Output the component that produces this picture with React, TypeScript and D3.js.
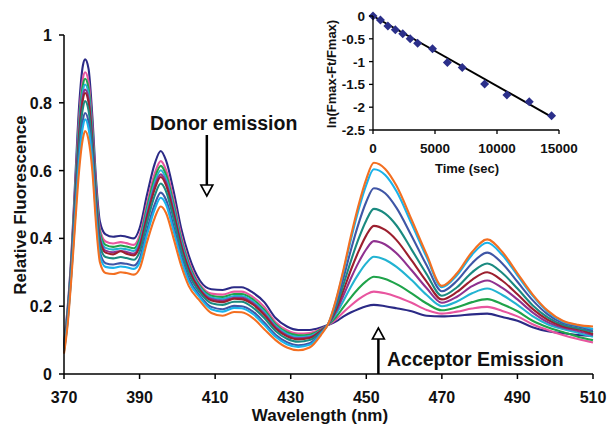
import React from 'react';
import * as d3 from 'd3';

const wavelengths = [370, 371, 372, 373, 374, 375, 375.6, 376.5, 377.5, 378.5, 379.5, 381, 383, 385, 386.5, 388.5, 390, 392, 394, 395.6, 397, 399, 401, 403, 406, 409, 412, 415, 417, 420, 423, 426, 429, 432, 435, 438, 440, 442, 444, 446, 448, 450, 452, 455, 458, 462, 466, 470, 474, 478, 482, 486, 490, 494, 498, 502, 506, 510];

const navy = [.09,.20,.36,.58,.79,.91,.928,.90,.76,.57,.45,.412,.405,.408,.405,.40,.43,.53,.62,.658,.63,.54,.43,.35,.275,.25,.248,.256,.256,.24,.212,.165,.14,.13,.13,.137,.145,.155,.17,.182,.192,.2,.204,.2,.194,.185,.172,.17,.172,.176,.178,.168,.157,.138,.126,.12,.115,.112];
const pink = [.085,.191,.347,.557,.756,.871,.890,.862,.731,.547,.428,.391,.385,.389,.386,.381,.408,.505,.591,.628,.602,.515,.41,.334,.264,.237,.234,.243,.243,.227,.198,.153,.129,.119,.121,.133,.145,.161,.183,.203,.221,.235,.243,.238,.228,.21,.189,.178,.184,.193,.198,.186,.17,.147,.13,.115,.103,.093];
const green = [.082,.187,.341,.545,.739,.852,.871,.843,.717,.535,.418,.381,.375,.379,.376,.371,.398,.492,.577,.614,.588,.502,.40,.326,.259,.231,.227,.236,.236,.22,.19,.147,.123,.114,.116,.131,.146,.168,.198,.227,.253,.274,.287,.28,.265,.238,.208,.188,.197,.212,.221,.206,.185,.157,.138,.124,.11,.1];
const cyan = [.08,.183,.336,.535,.724,.835,.854,.827,.704,.525,.408,.372,.367,.37,.368,.363,.388,.481,.564,.601,.576,.491,.392,.319,.254,.226,.221,.23,.23,.214,.184,.142,.118,.109,.112,.129,.147,.177,.217,.259,.296,.327,.346,.337,.316,.277,.233,.2,.214,.238,.252,.233,.204,.171,.147,.133,.122,.11];
const purple = [.077,.179,.331,.525,.71,.82,.839,.812,.693,.515,.40,.364,.359,.363,.36,.355,.38,.471,.553,.589,.565,.481,.384,.312,.25,.221,.216,.225,.225,.209,.178,.138,.114,.105,.108,.128,.147,.184,.233,.284,.33,.368,.392,.382,.356,.306,.253,.21,.228,.259,.276,.254,.22,.182,.153,.137,.127,.115];
const darkRed = [.076,.177,.327,.519,.701,.809,.829,.801,.685,.509,.394,.358,.353,.362,.355,.35,.374,.464,.545,.581,.557,.474,.378,.308,.247,.217,.212,.222,.221,.205,.174,.134,.111,.102,.106,.127,.148,.191,.248,.309,.363,.409,.437,.425,.395,.335,.272,.22,.242,.278,.3,.275,.235,.192,.16,.141,.132,.118];
const teal = [.072,.171,.319,.504,.679,.784,.805,.777,.666,.494,.38,.345,.341,.345,.342,.337,.36,.448,.526,.562,.539,.458,.366,.297,.24,.209,.204,.213,.213,.196,.165,.127,.104,.095,.1,.124,.148,.199,.265,.336,.40,.453,.487,.473,.438,.367,.294,.231,.256,.30,.326,.298,.252,.203,.167,.145,.135,.124];
const royal = [.068,.163,.308,.483,.648,.749,.77,.743,.64,.473,.36,.327,.323,.327,.325,.32,.34,.425,.50,.535,.514,.435,.348,.283,.23,.198,.191,.201,.20,.184,.152,.116,.094,.085,.091,.121,.149,.208,.285,.369,.445,.508,.548,.533,.49,.407,.32,.244,.275,.327,.358,.326,.272,.218,.176,.15,.14,.128];
const sky = [.065,.158,.301,.471,.63,.729,.751,.724,.626,.461,.349,.316,.313,.317,.315,.31,.329,.412,.486,.52,.50,.422,.338,.274,.225,.191,.184,.195,.194,.177,.145,.11,.088,.08,.086,.119,.15,.217,.304,.40,.486,.558,.604,.587,.539,.443,.344,.256,.291,.352,.387,.351,.291,.231,.184,.155,.144,.133];
const orange = [.06,.15,.29,.45,.60,.695,.717,.69,.60,.44,.33,.298,.295,.30,.298,.293,.31,.39,.46,.494,.475,.40,.32,.26,.215,.18,.172,.183,.182,.165,.132,.10,.078,.07,.078,.115,.15,.22,.31,.41,.50,.575,.623,.605,.555,.455,.352,.26,.297,.36,.397,.36,.297,.235,.187,.157,.145,.14];

const spectra = [navy, pink, green, cyan, purple, darkRed, teal, royal, sky, orange];
const spectraColors = ['#2b2a86', '#e8559f', '#1fa34a', '#22b3d2', '#8f318f', '#9c1f2e', '#1a8a80', '#3f56a6', '#1ab2ea', '#f36f21'];

const xTicks = [370, 390, 410, 430, 450, 470, 490, 510];
const yTicks = [0, 0.2, 0.4, 0.6, 0.8, 1];

const insetTimes = [0, 600, 1200, 1800, 2400, 3000, 3600, 4800, 6000, 7200, 9000, 10800, 12600, 14400];
const insetValues = [0, -0.09, -0.22, -0.3, -0.39, -0.5, -0.6, -0.72, -1.02, -1.13, -1.49, -1.73, -1.88, -2.19];
const fitTimes = [0, 14400];
const fitValues = [0, -2.21];
const insetXTicks = [0, 5000, 10000, 15000];
const insetYTicks = [0, -0.5, -1, -1.5, -2, -2.5];

const FONT = '"Liberation Sans", Arial, Helvetica, sans-serif';

export default function App() {
  const x = d3.scaleLinear().domain([370, 510]).range([64, 593]);
  const y = d3.scaleLinear().domain([0, 1]).range([374, 35]);
  const line = d3
    .line<number>()
    .x((_, i) => x(wavelengths[i]))
    .y((d) => y(d))
    .curve(d3.curveMonotoneX);

  const ix = d3.scaleLinear().domain([0, 15000]).range([373, 559]);
  const iy = d3.scaleLinear().domain([-2.5, 0]).range([130, 16]);
  const fitLine = d3
    .line<number>()
    .x((_, i) => ix(fitTimes[i]))
    .y((d) => iy(d));

  const donorX = x(407.8);
  const accX = x(453.2);

  return (
    <svg width={608} height={424} style={{ position: 'absolute', left: 0, top: 0, background: '#fff' }} fontFamily={FONT} fontWeight="bold">
      {/* spectra */}
      <g fill="none" strokeWidth={2.1} strokeLinejoin="round">
        {spectra.map((s, i) => (
          <path key={i} d={line(s) || ''} stroke={spectraColors[i]} />
        ))}
      </g>

      {/* main axes */}
      <g stroke="#000" strokeWidth={1.5}>
        <line x1={x(370)} x2={x(510)} y1={y(0)} y2={y(0)} />
        <line x1={x(370)} x2={x(370)} y1={y(0)} y2={y(1)} />
        {xTicks.map((t) => (
          <line key={t} x1={x(t)} x2={x(t)} y1={y(0)} y2={y(0) + 5} />
        ))}
        {yTicks.map((t) => (
          <line key={t} x1={x(370) - 5} x2={x(370)} y1={y(t)} y2={y(t)} />
        ))}
      </g>
      <g fontSize={16} fill="#111">
        {xTicks.map((t) => (
          <text key={t} x={x(t)} y={403} textAnchor="middle">{t}</text>
        ))}
        {yTicks.map((t) => (
          <text key={t} x={52} y={y(t) + 6} textAnchor="end">{String(t)}</text>
        ))}
      </g>
      <text x={320} y={421} textAnchor="middle" fontSize={17} fill="#111">Wavelength (nm)</text>
      <text transform={`translate(26,205) rotate(-90)`} textAnchor="middle" fontSize={17} fill="#111">Relative Fluorescence</text>

      {/* annotations */}
      <text x={150} y={130} fontSize={19.5} fill="#111">Donor emission</text>
      <line x1={donorX} x2={donorX} y1={135} y2={185} stroke="#000" strokeWidth={2.5} />
      <path d={`M${donorX - 6},${185} L${donorX + 6},${185} L${donorX},${196} Z`} fill="#fff" stroke="#000" strokeWidth={1.6} />

      <text x={387} y={366} fontSize={19.5} fill="#111">Acceptor Emission</text>
      <line x1={accX} x2={accX} y1={339} y2={y(0)} stroke="#000" strokeWidth={2.5} />
      <path d={`M${accX - 6},${339} L${accX + 6},${339} L${accX},${328} Z`} fill="#fff" stroke="#000" strokeWidth={1.6} />

      {/* inset */}
      <path d={fitLine(fitValues) || ''} stroke="#000" strokeWidth={2} fill="none" />
      <g fill="#2b2f8a">
        {insetTimes.map((t, i) => {
          const cx = ix(t);
          const cy = iy(insetValues[i]);
          return <path key={t} d={`M${cx},${cy - 4.5} L${cx + 4.5},${cy} L${cx},${cy + 4.5} L${cx - 4.5},${cy} Z`} />;
        })}
      </g>
      <g stroke="#000" strokeWidth={1.3}>
        <line x1={ix(0)} x2={ix(15000)} y1={iy(-2.5)} y2={iy(-2.5)} />
        <line x1={ix(0)} x2={ix(0)} y1={iy(-2.5)} y2={iy(0)} />
        {insetXTicks.map((t) => (
          <line key={t} x1={ix(t)} x2={ix(t)} y1={iy(-2.5)} y2={iy(-2.5) + 4} />
        ))}
        {insetYTicks.map((t) => (
          <line key={t} x1={ix(0) - 4} x2={ix(0)} y1={iy(t)} y2={iy(t)} />
        ))}
      </g>
      <g fontSize={13.5} fill="#111">
        {insetXTicks.map((t) => (
          <text key={t} x={ix(t)} y={153} textAnchor="middle">{t}</text>
        ))}
        {insetYTicks.map((t) => (
          <text key={t} x={365} y={iy(t) + 5} textAnchor="end">{String(t)}</text>
        ))}
      </g>
      <text x={467} y={173} textAnchor="middle" fontSize={13} fill="#111">Time (sec)</text>
      <text transform={`translate(336,74) rotate(-90)`} textAnchor="middle" fontSize={13} fill="#111">ln(Fmax-Ft/Fmax)</text>
    </svg>
  );
}
